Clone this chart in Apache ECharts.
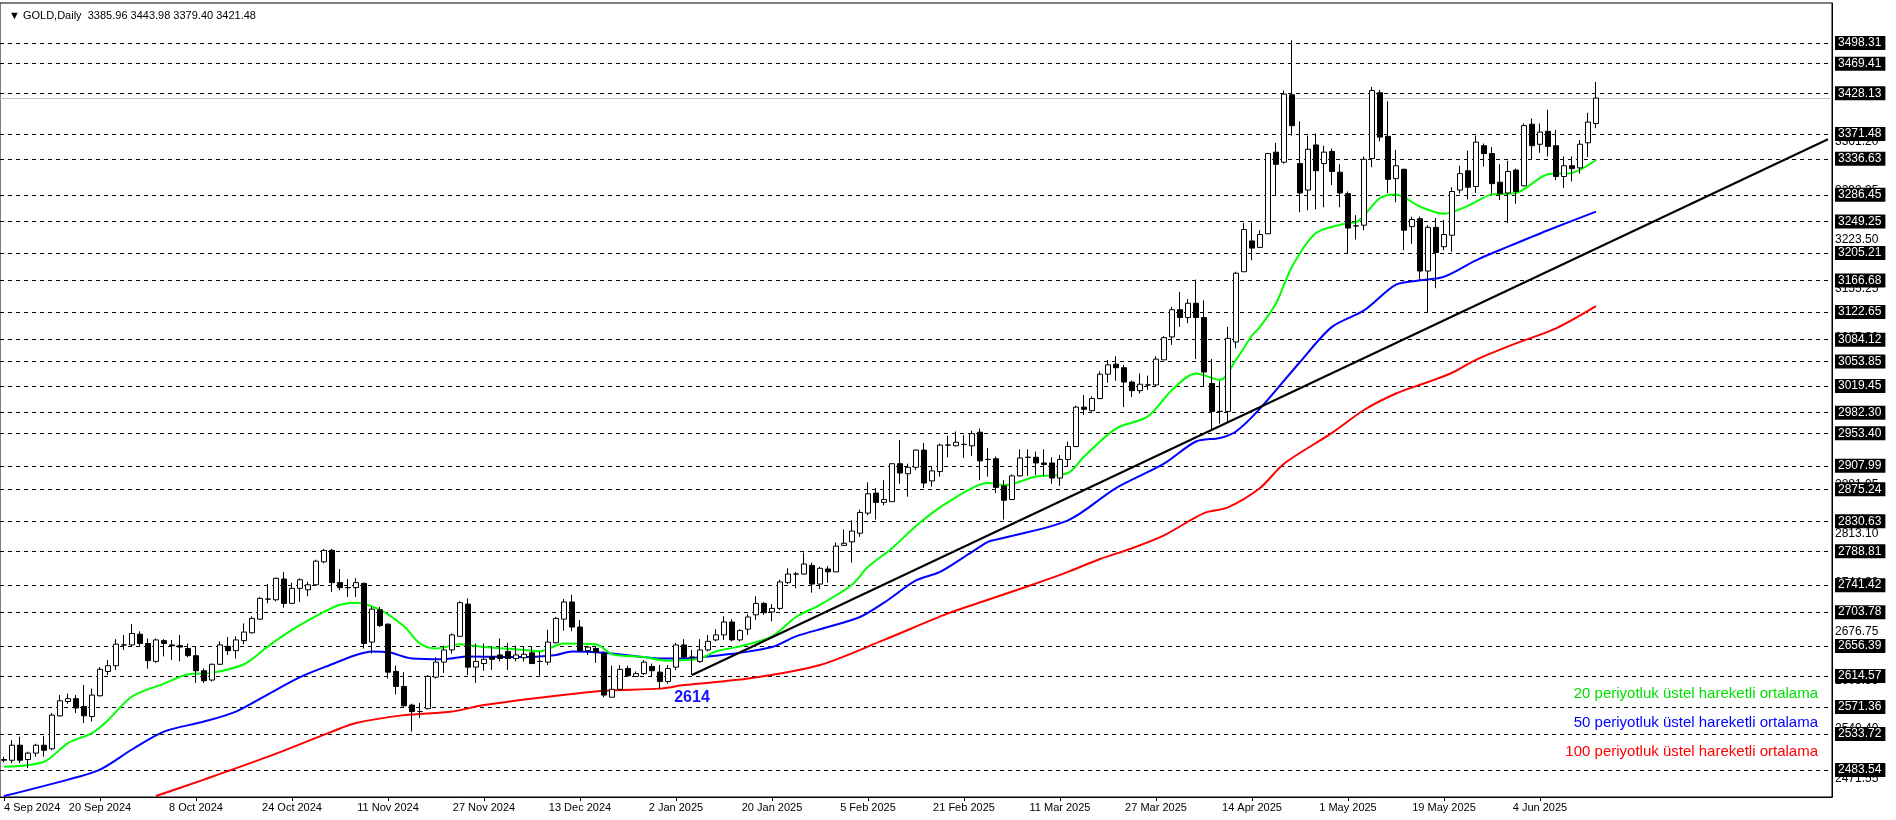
<!DOCTYPE html>
<html><head><meta charset="utf-8">
<script src="https://cdn.jsdelivr.net/npm/echarts@6/dist/echarts.min.js"></script>
<style>html,body{margin:0;padding:0;background:#fff}#c{width:1896px;height:820px}</style>
</head><body><div id="c"></div>
<script>
// ---- data ----
const opens = [2497,2497,2518,2498,2507,2518,2513,2559,2579,2583,2572,2558,2587,2621,2629,2658,2658,2673,2660,2635,2664,2658,2657,2653,2643,2622,2609,2631,2656,2650,2664,2675,2694,2722,2721,2750,2716,2737,2735,2742,2774,2790,2745,2738,2738,2744,2662,2707,2687,2621,2600,2574,2565,2569,2613,2634,2651,2670,2715,2627,2632,2641,2644,2649,2639,2640,2647,2635,2634,2661,2694,2718,2683,2650,2653,2646,2585,2596,2625,2614,2618,2628,2620,2607,2627,2658,2641,2635,2651,2665,2672,2690,2665,2680,2700,2716,2704,2709,2745,2757,2757,2769,2743,2764,2760,2797,2802,2814,2842,2870,2857,2858,2911,2897,2906,2930,2887,2900,2937,2936,2938,2936,2955,2917,2918,2880,2861,2894,2920,2920,2912,2912,2891,2917,2935,2990,2985,3002,3036,3050,3045,3025,3013,3021,3021,3056,3088,3126,3115,3135,3115,3023,2984,2984,3081,3179,3222,3213,3232,3346,3332,3426,3330,3293,3356,3330,3347,3318,3288,3243,3244,3337,3429,3368,3309,3322,3242,3253,3180,3241,3214,3230,3293,3320,3298,3355,3344,3304,3289,3321,3299,3385,3357,3375,3355,3312,3327,3324,3359,3385.96];
const closes = [2498,2518,2497,2507,2518,2511,2560,2580,2583,2570,2559,2588,2624,2629,2659,2658,2674,2660,2636,2665,2660,2657,2655,2643,2622,2608,2631,2658,2650,2665,2676,2695,2723,2722,2751,2716,2737,2749,2742,2775,2790,2745,2738,2738,2745,2660,2708,2685,2620,2600,2573,2565,2565,2614,2634,2651,2672,2717,2627,2635,2638,2638,2639,2639,2644,2645,2632,2635,2662,2695,2718,2683,2650,2655,2648,2588,2596,2624,2615,2618,2634,2622,2607,2625,2658,2641,2641,2651,2663,2672,2690,2665,2678,2697,2716,2703,2709,2746,2757,2757,2771,2743,2765,2760,2796,2800,2817,2843,2869,2857,2861,2911,2898,2906,2930,2884,2901,2937,2937,2941,2938,2953,2915,2917,2878,2860,2894,2919,2920,2912,2910,2891,2917,2935,2990,2987,3002,3036,3049,3045,3025,3013,3022,3021,3057,3087,3126,3115,3135,3115,3039,2984,2984,3086,3177,3238,3212,3231,3344,3329,3427,3383,3289,3350,3320,3346,3319,3289,3240,3243,3336,3432,3367,3308,3327,3237,3252,3180,3241,3206,3231,3291,3316,3297,3360,3344,3302,3288,3319,3291,3383,3355,3374,3354,3312,3327,3323,3357,3388,3421.48];
const lows = [2494,2493,2493,2486,2502,2502,2511,2558,2576,2563,2549,2551,2586,2616,2623,2651,2656,2657,2625,2633,2642,2637,2635,2641,2605,2605,2607,2630,2644,2639,2659,2674,2693,2716,2719,2710,2716,2718,2726,2741,2772,2732,2734,2725,2725,2653,2646,2683,2611,2589,2572,2537,2556,2568,2611,2619,2646,2670,2616,2605,2622,2623,2635,2623,2635,2635,2632,2615,2630,2660,2678,2677,2649,2644,2633,2585,2585,2595,2614,2613,2616,2614,2597,2604,2623,2639,2616,2633,2649,2663,2665,2663,2663,2672,2693,2700,2691,2707,2743,2737,2756,2731,2736,2745,2760,2796,2773,2809,2839,2833,2853,2858,2883,2865,2902,2877,2879,2893,2920,2935,2919,2922,2888,2893,2870,2833,2860,2893,2894,2895,2894,2883,2880,2907,2934,2979,2984,3001,3024,3027,2990,3004,3009,3014,3019,3056,3077,3102,3107,3057,3019,2958,2967,2968,3072,3179,3195,3212,3232,3286,3330,3369,3262,3265,3266,3269,3300,3269,3204,3224,3237,3325,3361,3289,3276,3209,3218,3168,3123,3156,3209,3207,3288,3280,3289,3326,3288,3279,3247,3274,3298,3335,3345,3340,3307,3296,3305,3316,3339,3379.40];
const highs = [2502,2525,2530,2509,2520,2531,2563,2588,2590,2588,2602,2597,2627,2637,2666,2672,2687,2677,2667,2667,2666,2665,2672,2660,2656,2625,2632,2663,2669,2670,2688,2698,2725,2743,2752,2760,2745,2751,2746,2777,2792,2792,2764,2750,2751,2745,2711,2711,2688,2629,2620,2576,2577,2616,2641,2657,2674,2719,2723,2660,2660,2656,2667,2661,2657,2655,2655,2649,2679,2697,2722,2728,2693,2657,2655,2649,2629,2630,2629,2621,2637,2632,2630,2630,2661,2666,2651,2666,2672,2680,2698,2694,2680,2701,2726,2718,2715,2749,2765,2760,2787,2773,2767,2768,2801,2819,2832,2847,2885,2877,2888,2912,2944,2911,2931,2940,2907,2939,2950,2956,2951,2957,2960,2933,2921,2888,2896,2931,2931,2928,2931,2920,2923,2942,2992,3007,3005,3040,3056,3061,3049,3027,3037,3034,3061,3089,3130,3151,3141,3168,3139,3057,3026,3102,3179,3247,3248,3237,3345,3359,3432,3502,3389,3369,3372,3355,3351,3329,3291,3258,3340,3437,3433,3417,3349,3323,3256,3256,3244,3254,3251,3297,3327,3348,3369,3358,3353,3329,3334,3323,3386,3393,3386,3405,3377,3340,3340,3363,3401,3443.98];
const ema20Pts = [[0,2488],[5,2495],[8,2521],[11,2535],[13,2553],[16,2586],[20,2604],[23,2617],[26,2619],[30,2631],[33,2656],[36,2679],[40,2704],[42,2714],[44,2717],[47,2707],[50,2684],[52,2660],[54,2653],[57,2659],[60,2655],[65,2651],[67,2649],[70,2660],[74,2659],[76,2645],[80,2641],[83,2636],[87,2639],[89,2649],[92,2656],[96,2670],[99,2697],[102,2714],[106,2742],[108,2767],[111,2793],[114,2824],[117,2850],[121,2877],[123,2884],[125,2881],[129,2893],[133,2898],[135,2921],[139,2960],[143,2977],[146,3014],[149,3037],[152,3028],[154,3056],[156,3090],[157,3102],[159,3135],[161,3186],[164,3233],[168,3247],[169,3248],[172,3282],[174,3287],[177,3270],[180,3260],[183,3271],[186,3287],[189,3289],[193,3315],[196,3317],[199,3335]];
const ema50Pts = [[0,2447],[8,2470],[12,2484],[16,2512],[20,2537],[25,2551],[29,2565],[33,2589],[37,2613],[41,2631],[44,2644],[46,2649],[48,2648],[51,2639],[55,2638],[58,2642],[65,2641],[69,2644],[71,2649],[75,2647],[80,2641],[82,2639],[85,2639],[89,2643],[92,2647],[96,2655],[99,2670],[103,2683],[107,2697],[110,2717],[114,2748],[117,2760],[121,2788],[123,2802],[124,2805],[133,2832],[139,2877],[145,2911],[149,2942],[152,2947],[154,2956],[157,2988],[162,3053],[166,3102],[170,3125],[174,3161],[177,3167],[180,3172],[184,3195],[188,3214],[193,3237],[199,3263]];
const ema100Pts = [[19,2447],[25,2470],[33,2502],[41,2537],[44,2549],[50,2560],[56,2565],[60,2574],[69,2587],[75,2594],[82,2597],[85,2602],[93,2611],[102,2630],[110,2665],[118,2702],[123,2721],[128,2740],[133,2760],[137,2778],[141,2793],[145,2811],[150,2842],[153,2850],[157,2877],[160,2911],[166,2954],[170,2986],[174,3009],[178,3025],[181,3038],[184,3056],[189,3079],[194,3100],[199,3131]];
const trendPts = [[86,2616],[228,3364]];
const levels = [3498.31,3469.41,3428.13,3371.48,3336.63,3286.45,3249.25,3205.21,3166.68,3122.65,3084.12,3053.85,3019.45,2982.30,2953.40,2907.99,2875.24,2830.63,2788.81,2741.42,2703.78,2656.39,2614.57,2571.36,2533.72,2483.54];
const axisTickLabels = [2471.55,2540.40,2608.55,2676.75,2744.90,2813.10,2881.95,2950.25,3018.75,3087.00,3155.25,3223.50,3292.35,3361.20,3429.50];
const dateTickIdx = [0,12,24,36,48,60,72,84,96,108,120,132,144,156,168,180,192];
const lastPrice = 3421.48;
const lowMark = {idx:86, price:2584, text:'2614'};
const holidays = ['2024-12-25','2025-01-01','2025-04-18'];
const maNames = ['20 periyotluk üstel hareketli ortalama','50 periyotluk üstel hareketli ortalama','100 periyotluk üstel hareketli ortalama'];
const titleText = '\u25BC GOLD,Daily  3385.96 3443.98 3379.40 3421.48';

// categories
const months=['Jan','Feb','Mar','Apr','May','Jun','Jul','Aug','Sep','Oct','Nov','Dec'];
const cats=[];
let d=new Date(Date.UTC(2024,8,4));
while(cats.length<opens.length){
  const wd=d.getUTCDay(); const iso=d.toISOString().slice(0,10);
  if(wd!==0&&wd!==6&&!holidays.includes(iso)) cats.push(d.getUTCDate()+' '+months[d.getUTCMonth()]+' '+d.getUTCFullYear());
  d=new Date(d.getTime()+86400000);
}
for(let i=0;i<29;i++) cats.push('');
const ohlc=opens.map((o,i)=>[o,closes[i],lows[i],highs[i]]);

const chart=echarts.init(document.getElementById('c'));
const FF='Liberation Sans, Arial, sans-serif';
chart.setOption({
  animation:false,
  backgroundColor:'#fff',
  title:{text:titleText,left:4,top:5,textStyle:{fontSize:11,fontWeight:'normal',color:'#000',fontFamily:FF}},
  grid:{left:0,right:64,top:3,bottom:23,show:true,borderColor:'#000',borderWidth:1},
  xAxis:{type:'category',data:cats,boundaryGap:true,
    axisLine:{lineStyle:{color:'#000'}},
    axisTick:{show:true,alignWithLabel:true,interval:(i)=>dateTickIdx.includes(i),lineStyle:{color:'#000'},length:4},
    axisLabel:{interval:(i)=>dateTickIdx.includes(i),color:'#000',fontSize:11,fontFamily:FF,margin:5,alignMinLabel:'left'},
    splitLine:{show:false}},
  yAxis:{type:'value',position:'right',min:2445.7,max:3554.2,axisLabel:{show:false},axisTick:{show:false},
    axisLine:{show:true,lineStyle:{color:'#000'}},splitLine:{show:false}},
  graphic:maNames.map((t,i)=>({type:'text',right:78,top:686+i*29,style:{text:t,fill:['#00e000','#0000ff','#ff0000'][i],fontSize:15,fontFamily:FF,textAlign:'right'}})),
  series:[
    {type:'line',data:ema100Pts,smooth:0.3,showSymbol:false,lineStyle:{color:'#ff0000',width:2},z:3,
      markLine:{silent:true,symbol:'none',z:1,lineStyle:{color:'rgba(255,255,255,0)',width:1,type:'solid'},
        label:{show:true,position:'end',distance:3,color:'#000',backgroundColor:'#fff',fontSize:12,fontFamily:FF,formatter:(p)=>p.value.toFixed(2)},
        data:axisTickLabels.map(v=>({yAxis:v}))}},
    {type:'line',data:ema50Pts,smooth:0.3,showSymbol:false,lineStyle:{color:'#0000ff',width:2},z:3},
    {type:'line',data:ema20Pts,smooth:0.3,showSymbol:false,lineStyle:{color:'#00ff00',width:2},z:3},
    {type:'line',data:trendPts,showSymbol:false,lineStyle:{color:'#000',width:2},z:4},
    {type:'candlestick',data:ohlc,barWidth:5,z:5,
      itemStyle:{color:'#fff',color0:'#000',borderColor:'#000',borderColor0:'#000',borderWidth:1},
      markPoint:{symbol:'rect',symbolSize:0,data:[{coord:[lowMark.idx,lowMark.price],value:lowMark.text}],
        label:{show:true,formatter:lowMark.text,color:'#1414ff',fontSize:16,fontWeight:'bold',fontFamily:FF}},
      markLine:{silent:true,symbol:'none',z:2,
        lineStyle:{color:'#000',type:[4,4],width:1},
        label:{position:'end',distance:3,color:'#fff',backgroundColor:'#000',padding:[1,4,1,3],fontSize:12,fontFamily:FF,formatter:(p)=>p.value.toFixed(2)},
        data:levels.map(v=>({yAxis:v})).concat([{yAxis:lastPrice,lineStyle:{color:'#c0c0c0',type:'solid',width:1},label:{show:false}}])}}
  ]
});
</script></body></html>
